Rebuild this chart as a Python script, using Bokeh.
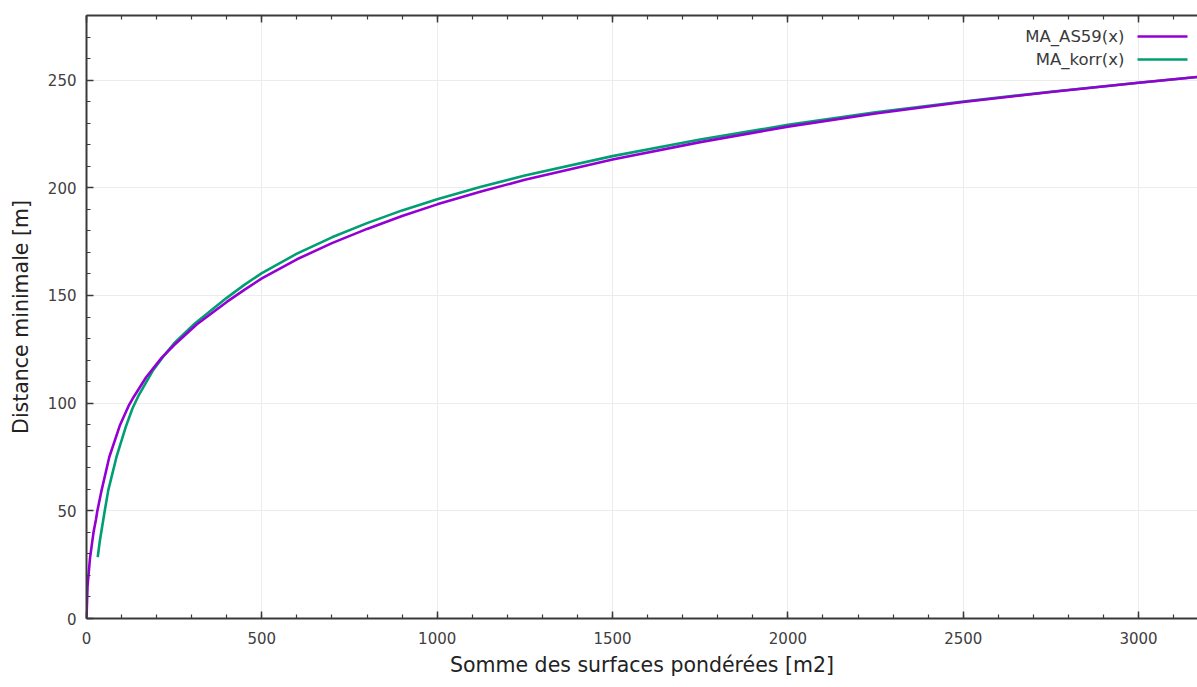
from bokeh.plotting import figure
from bokeh.models import Range1d, LinearAxis, SingleIntervalTicker, Label, BoxAnnotation
from bokeh.embed import file_html
from bokeh.resources import INLINE

# ---- data ----
x_as59 = [0, 3, 10, 20, 27, 31, 43, 65, 95, 120, 135, 170, 214, 250, 314, 400, 450, 500,
          600, 700, 800, 900, 1000, 1125, 1250, 1500, 1750, 2000, 2250, 2500, 2750, 3000, 3200]
y_as59 = [0, 15, 28, 40, 46, 50, 59.5, 75, 89.6, 98.7, 103, 112, 121, 127, 136.5, 147, 152.6, 157.9,
          166.8, 174.3, 180.9, 186.9, 192.3, 198.3, 203.7, 213.1, 221.2, 228.4, 234.5, 239.8, 244.5,
          248.8, 252.0]

x_korr = [32, 38, 44, 48, 52, 62, 85.5, 112, 131, 150, 190, 218.6, 250, 309, 400, 450, 500,
          600, 700, 800, 900, 1000, 1125, 1250, 1500, 1750, 2000, 2250, 2500, 2750, 3000, 3200]
y_korr = [28.5, 36, 42, 46, 50, 59.5, 75, 89, 97.5, 104, 115.3, 121.6, 127.8, 137, 148.9, 154.9, 160.4,
          169.4, 177, 183.6, 189.5, 194.7, 200.5, 205.7, 214.7, 222.4, 229.2, 235, 240.1, 244.6,
          248.8, 252.0]

series_names = ["MA_AS59(x)", "MA_korr(x)"]
series_colors = ["#9400D3", "#009E73"]
x_title = "Somme des surfaces pondérées [m2]"
y_title = "Distance minimale [m]"

FONT = "DejaVu Sans"
AXC = "#3a3a3a"

W, H = 1197, 687
p = figure(width=W, height=H, output_backend="svg", toolbar_location=None,
           x_range=Range1d(0, 3168), y_range=Range1d(0, 280),
           x_axis_location="below", y_axis_location="left",
           min_border_left=86, min_border_top=15, min_border_right=0, min_border_bottom=69)
p.outline_line_color = None
p.background_fill_color = "white"
p.border_fill_color = "white"

p.xaxis.ticker = SingleIntervalTicker(interval=500, num_minor_ticks=5)
p.yaxis.ticker = SingleIntervalTicker(interval=50, num_minor_ticks=5)

for ax in (p.xaxis[0], p.yaxis[0]):
    ax.axis_line_color = AXC
    ax.axis_line_width = 2
    ax.major_tick_line_color = AXC
    ax.minor_tick_line_color = AXC
    ax.major_tick_line_width = 1.5
    ax.minor_tick_line_width = 1.2
    ax.major_tick_in = 7
    ax.major_tick_out = 0
    ax.minor_tick_in = 4
    ax.minor_tick_out = 0
    ax.major_label_text_font = FONT
    ax.major_label_text_font_size = "15px"
    ax.major_label_text_color = "#404040"
    ax.axis_label_text_font = FONT
    ax.axis_label_text_font_size = "20.5px"
    ax.axis_label_text_font_style = "normal"
    ax.axis_label_text_color = "#222222"

p.xaxis.axis_label = x_title
p.yaxis.axis_label = y_title
p.xaxis.major_label_standoff = 13
p.xaxis.axis_label_standoff = 6
p.yaxis.major_label_standoff = 10
p.yaxis.axis_label_standoff = 12

# mirrored top border with inward ticks (gnuplot style)
top = LinearAxis(ticker=SingleIntervalTicker(interval=500, num_minor_ticks=5))
top.axis_line_color = AXC
top.axis_line_width = 2
top.major_tick_line_color = AXC
top.minor_tick_line_color = AXC
top.major_tick_line_width = 1.5
top.minor_tick_line_width = 1.2
top.major_tick_in = 7
top.major_tick_out = 0
top.minor_tick_in = 4
top.minor_tick_out = 0
top.major_label_text_font_size = "1px"
top.major_label_text_alpha = 0
top.major_label_standoff = 0
p.add_layout(top, "above")

p.xgrid.grid_line_color = "#ececec"
p.ygrid.grid_line_color = "#ececec"
p.xgrid.grid_line_width = 1
p.ygrid.grid_line_width = 1

p.line(x_korr, y_korr, line_color=series_colors[1], line_width=2.6, line_join="round")
p.line(x_as59, y_as59, line_color=series_colors[0], line_width=2.6, line_join="round")

# gnuplot-style key: text then sample line, top right (screen units relative to the frame)
for i, (name, col) in enumerate(zip(series_names, series_colors)):
    yy = 582 - 23 * i
    p.add_layout(Label(x=1038, y=yy, x_units="screen", y_units="screen", text=name,
                       text_align="right", text_baseline="middle",
                       text_font=FONT, text_font_size="16.5px", text_color="#3a3a3a"))
    p.add_layout(BoxAnnotation(left=1051, right=1101, bottom=yy - 1.3, top=yy + 1.3,
                               left_units="screen", right_units="screen",
                               bottom_units="screen", top_units="screen",
                               fill_color=col, fill_alpha=1, line_color=None))

open("out.html", "w").write(file_html(p, INLINE))
